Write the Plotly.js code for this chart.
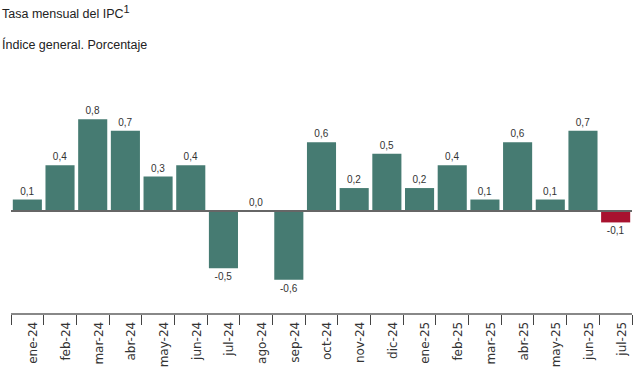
<!DOCTYPE html>
<html>
<head>
<meta charset="utf-8">
<script src="https://cdn.plot.ly/plotly-3.0.1.min.js"></script>
<style>html,body{margin:0;padding:0;background:#fff;}#chart{width:642px;height:367px;}</style>
</head>
<body>
<div id="chart"></div>
<script>
const months = ["ene-24","feb-24","mar-24","abr-24","may-24","jun-24","jul-24","ago-24","sep-24","oct-24","nov-24","dic-24","ene-25","feb-25","mar-25","abr-25","may-25","jun-25","jul-25"];
const tasa = [0.1,0.4,0.8,0.7,0.3,0.4,-0.5,0.0,-0.6,0.6,0.2,0.5,0.2,0.4,0.1,0.6,0.1,0.7,-0.1];
const titleText = "Tasa mensual del IPC<sup><span style='font-size:11px'>1</span></sup>";
const subtitleText = "Índice general. Porcentaje";

const teal = "#467b72", red = "#a8122f";
const colors = tasa.map((v, i) => i === tasa.length - 1 ? red : teal);

const trace = {
  type: "bar",
  x: months,
  y: tasa,
  marker: {color: colors, line: {width: 0}},
  texttemplate: "%{y:.1f}",
  textposition: "outside",
  cliponaxis: false,
  textfont: {family: "Liberation Sans, Arial, sans-serif", size: 10, color: "#333"},
  hoverinfo: "skip"
};

const layout = {
  width: 642, height: 367,
  margin: {l: 11, r: 10, t: 70, b: 54},
  paper_bgcolor: "#fff", plot_bgcolor: "#fff",
  separators: ",.",
  bargap: 0.11,
  showlegend: false,
  font: {family: "Liberation Sans, Arial, sans-serif", color: "#222"},
  xaxis: {
    type: "category",
    tickson: "boundaries",
    ticks: "outside", ticklen: 10, tickwidth: 1, tickcolor: "#444",
    showline: true, linecolor: "#888", linewidth: 2,
    tickangle: -90,
    ticklabelshift: 6,
    ticklabelstandoff: 2,
    tickfont: {family: "DejaVu Sans, sans-serif", size: 12, color: "#333"},
    showgrid: false, zeroline: false, fixedrange: true
  },
  yaxis: {
    range: [-0.891, 1.231],
    showticklabels: false, ticks: "", showgrid: false,
    zeroline: true, zerolinecolor: "#666", zerolinewidth: 2,
    zerolinelayer: "above traces",
    showline: false, fixedrange: true
  },
  annotations: [
    {text: titleText, xref: "paper", yref: "paper", x: -11/621, y: 1 + 58/243,
     xanchor: "left", yanchor: "middle", showarrow: false,
     font: {family: "Liberation Sans, Arial, sans-serif", size: 12.5, color: "#222"}},
    {text: subtitleText, xref: "paper", yref: "paper", x: -11/621, y: 1 + 26/243,
     xanchor: "left", yanchor: "middle", showarrow: false,
     font: {family: "Liberation Sans, Arial, sans-serif", size: 12.5, color: "#222"}}
  ]
};

Plotly.newPlot("chart", [trace], layout, {staticPlot: true, displayModeBar: false});
</script>
</body>
</html>
